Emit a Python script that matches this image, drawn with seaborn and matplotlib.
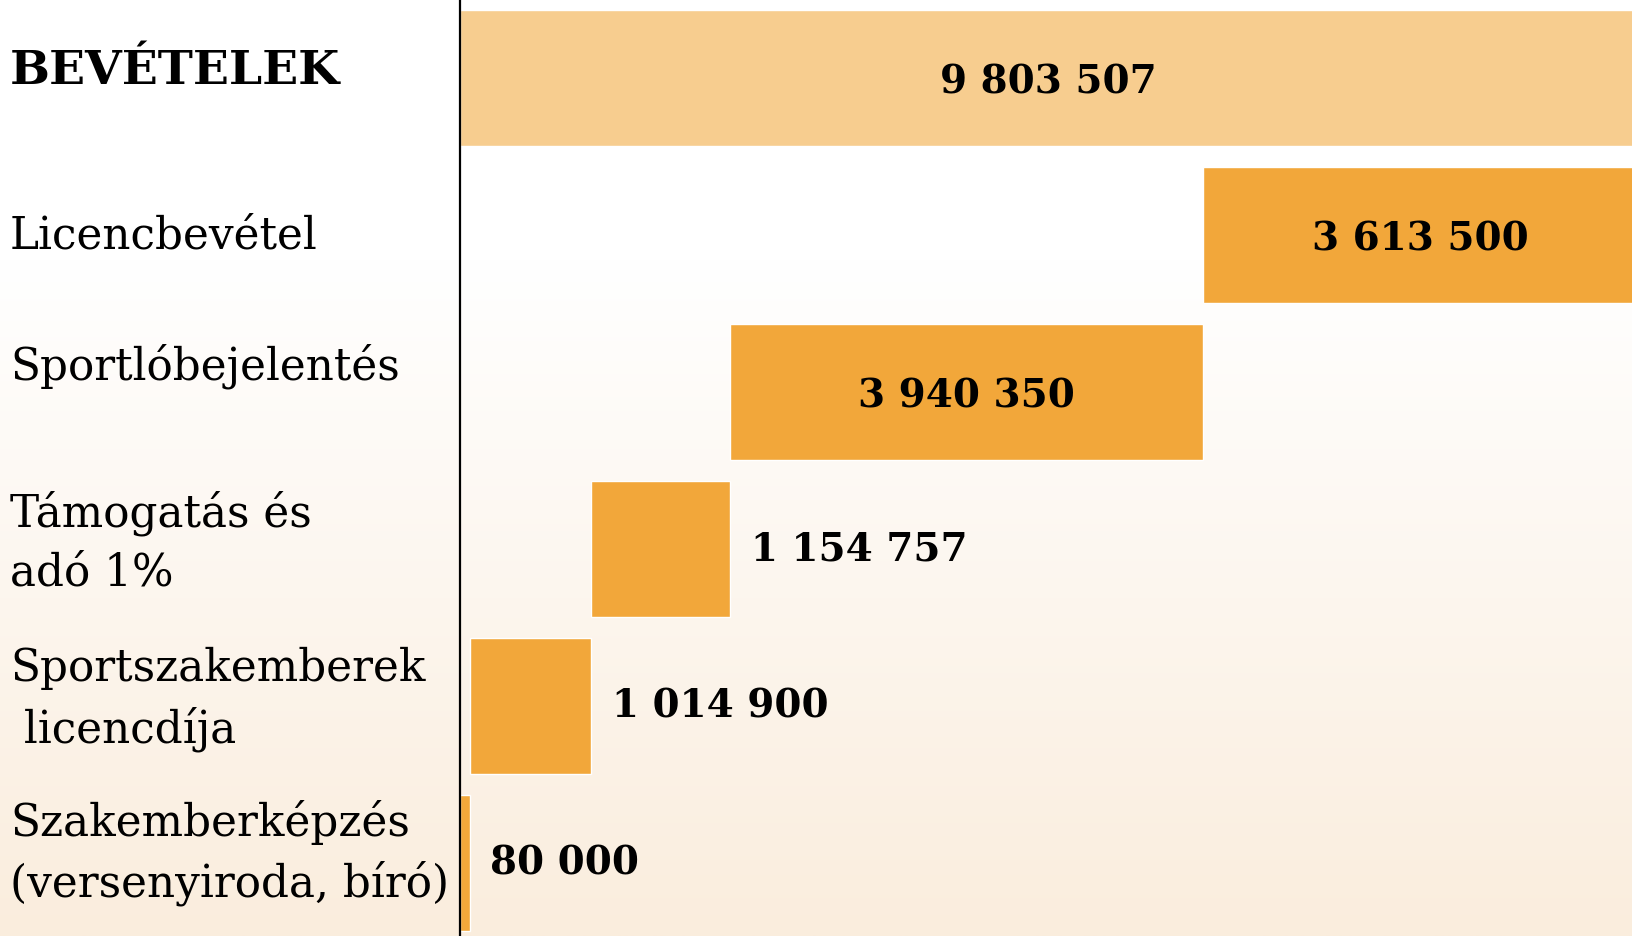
import numpy as np
import pandas as pd
import matplotlib
matplotlib.use("Agg")
import matplotlib.pyplot as plt
import matplotlib.transforms as mtransforms
import seaborn as sns

# data
categories = [
    "BEVÉTELEK",
    "Licencbevétel",
    "Sportlóbejelentés",
    "Támogatás és\nadó 1%",
    "Sportszakemberek\n licencdíja",
    "Szakemberképzés\n(versenyiroda, bíró)",
]
values = [9803507, 3613500, 3940350, 1154757, 1014900, 80000]
bar_colors = ["#F7CD8F", "#F2A73A", "#F2A73A", "#F2A73A", "#F2A73A", "#F2A73A"]

df = pd.DataFrame({"cat": categories, "value": values})

# waterfall: each component starts where the ones below it end, total starts at 0
comp = values[1:]
starts = [0] + [int(sum(comp[i + 1:])) for i in range(len(comp))]

sns.set_theme(style="white")
plt.rcParams["font.family"] = ["DejaVu Serif"]

fig = plt.figure(figsize=(16.33, 9.37), dpi=100)

# background gradient (white -> warm beige at bottom)
bg = fig.add_axes([0, 0, 1, 1], zorder=-1)
t = np.clip((np.linspace(0, 1, 400) - 0.28) / 0.72, 0, 1)[:, None]
top = np.array([1.0, 1.0, 1.0])
bottom = np.array([250, 237, 221]) / 255
grad = top + (bottom - top) * t[..., None]
grad = np.repeat(grad, 2, axis=1)
bg.imshow(grad, aspect="auto", extent=[0, 1, 0, 1])
bg.axis("off")

ax = fig.add_axes([460 / 1633, 0, 1 - 460 / 1633, 1])
ax.set_facecolor("none")

sns.barplot(data=df, x="value", y="cat", hue="cat", palette=bar_colors,
            legend=False, orient="h", width=0.866, saturation=1, ax=ax)

for patch, s in zip(ax.patches, starts):
    patch.set_x(s)

ax.set_xlim(0, 9.772e6)
ax.set_ylim(5.465, -0.503)

# value labels
for i, (v, s) in enumerate(zip(values, starts)):
    txt = f"{v:,}".replace(",", " ")
    if v > 2e6:
        ax.text(s + v / 2, i + 0.02, txt, ha="center", va="center",
                fontsize=28, fontweight="bold", color="black")
    else:
        ax.annotate(txt, (s + v, i), xytext=(15, 0), textcoords="offset points",
                    ha="left", va="center", fontsize=28, fontweight="bold", color="black")

# category labels, left-aligned at the figure edge
ax.set_yticks([])
nudge = [-0.05, 0.0, -0.17, -0.05, -0.05, -0.07]
trans = mtransforms.blended_transform_factory(fig.transFigure, ax.transData)
for i, (cat, dy) in enumerate(zip(categories, nudge)):
    bold = i == 0
    ax.text(10 / 1633, i + dy, cat, transform=trans, ha="left", va="center",
            fontsize=34 if bold else 31.5, fontweight="bold" if bold else "normal",
            color="black", linespacing=1.45)

ax.tick_params(axis="x", bottom=False, labelbottom=False)
ax.set_xlabel("")
ax.set_ylabel("")
for side in ["top", "right", "bottom"]:
    ax.spines[side].set_visible(False)
ax.spines["left"].set_color("black")
ax.spines["left"].set_linewidth(1.6)
ax.spines["left"].set_zorder(5)

fig.savefig("out.png", dpi=100)
